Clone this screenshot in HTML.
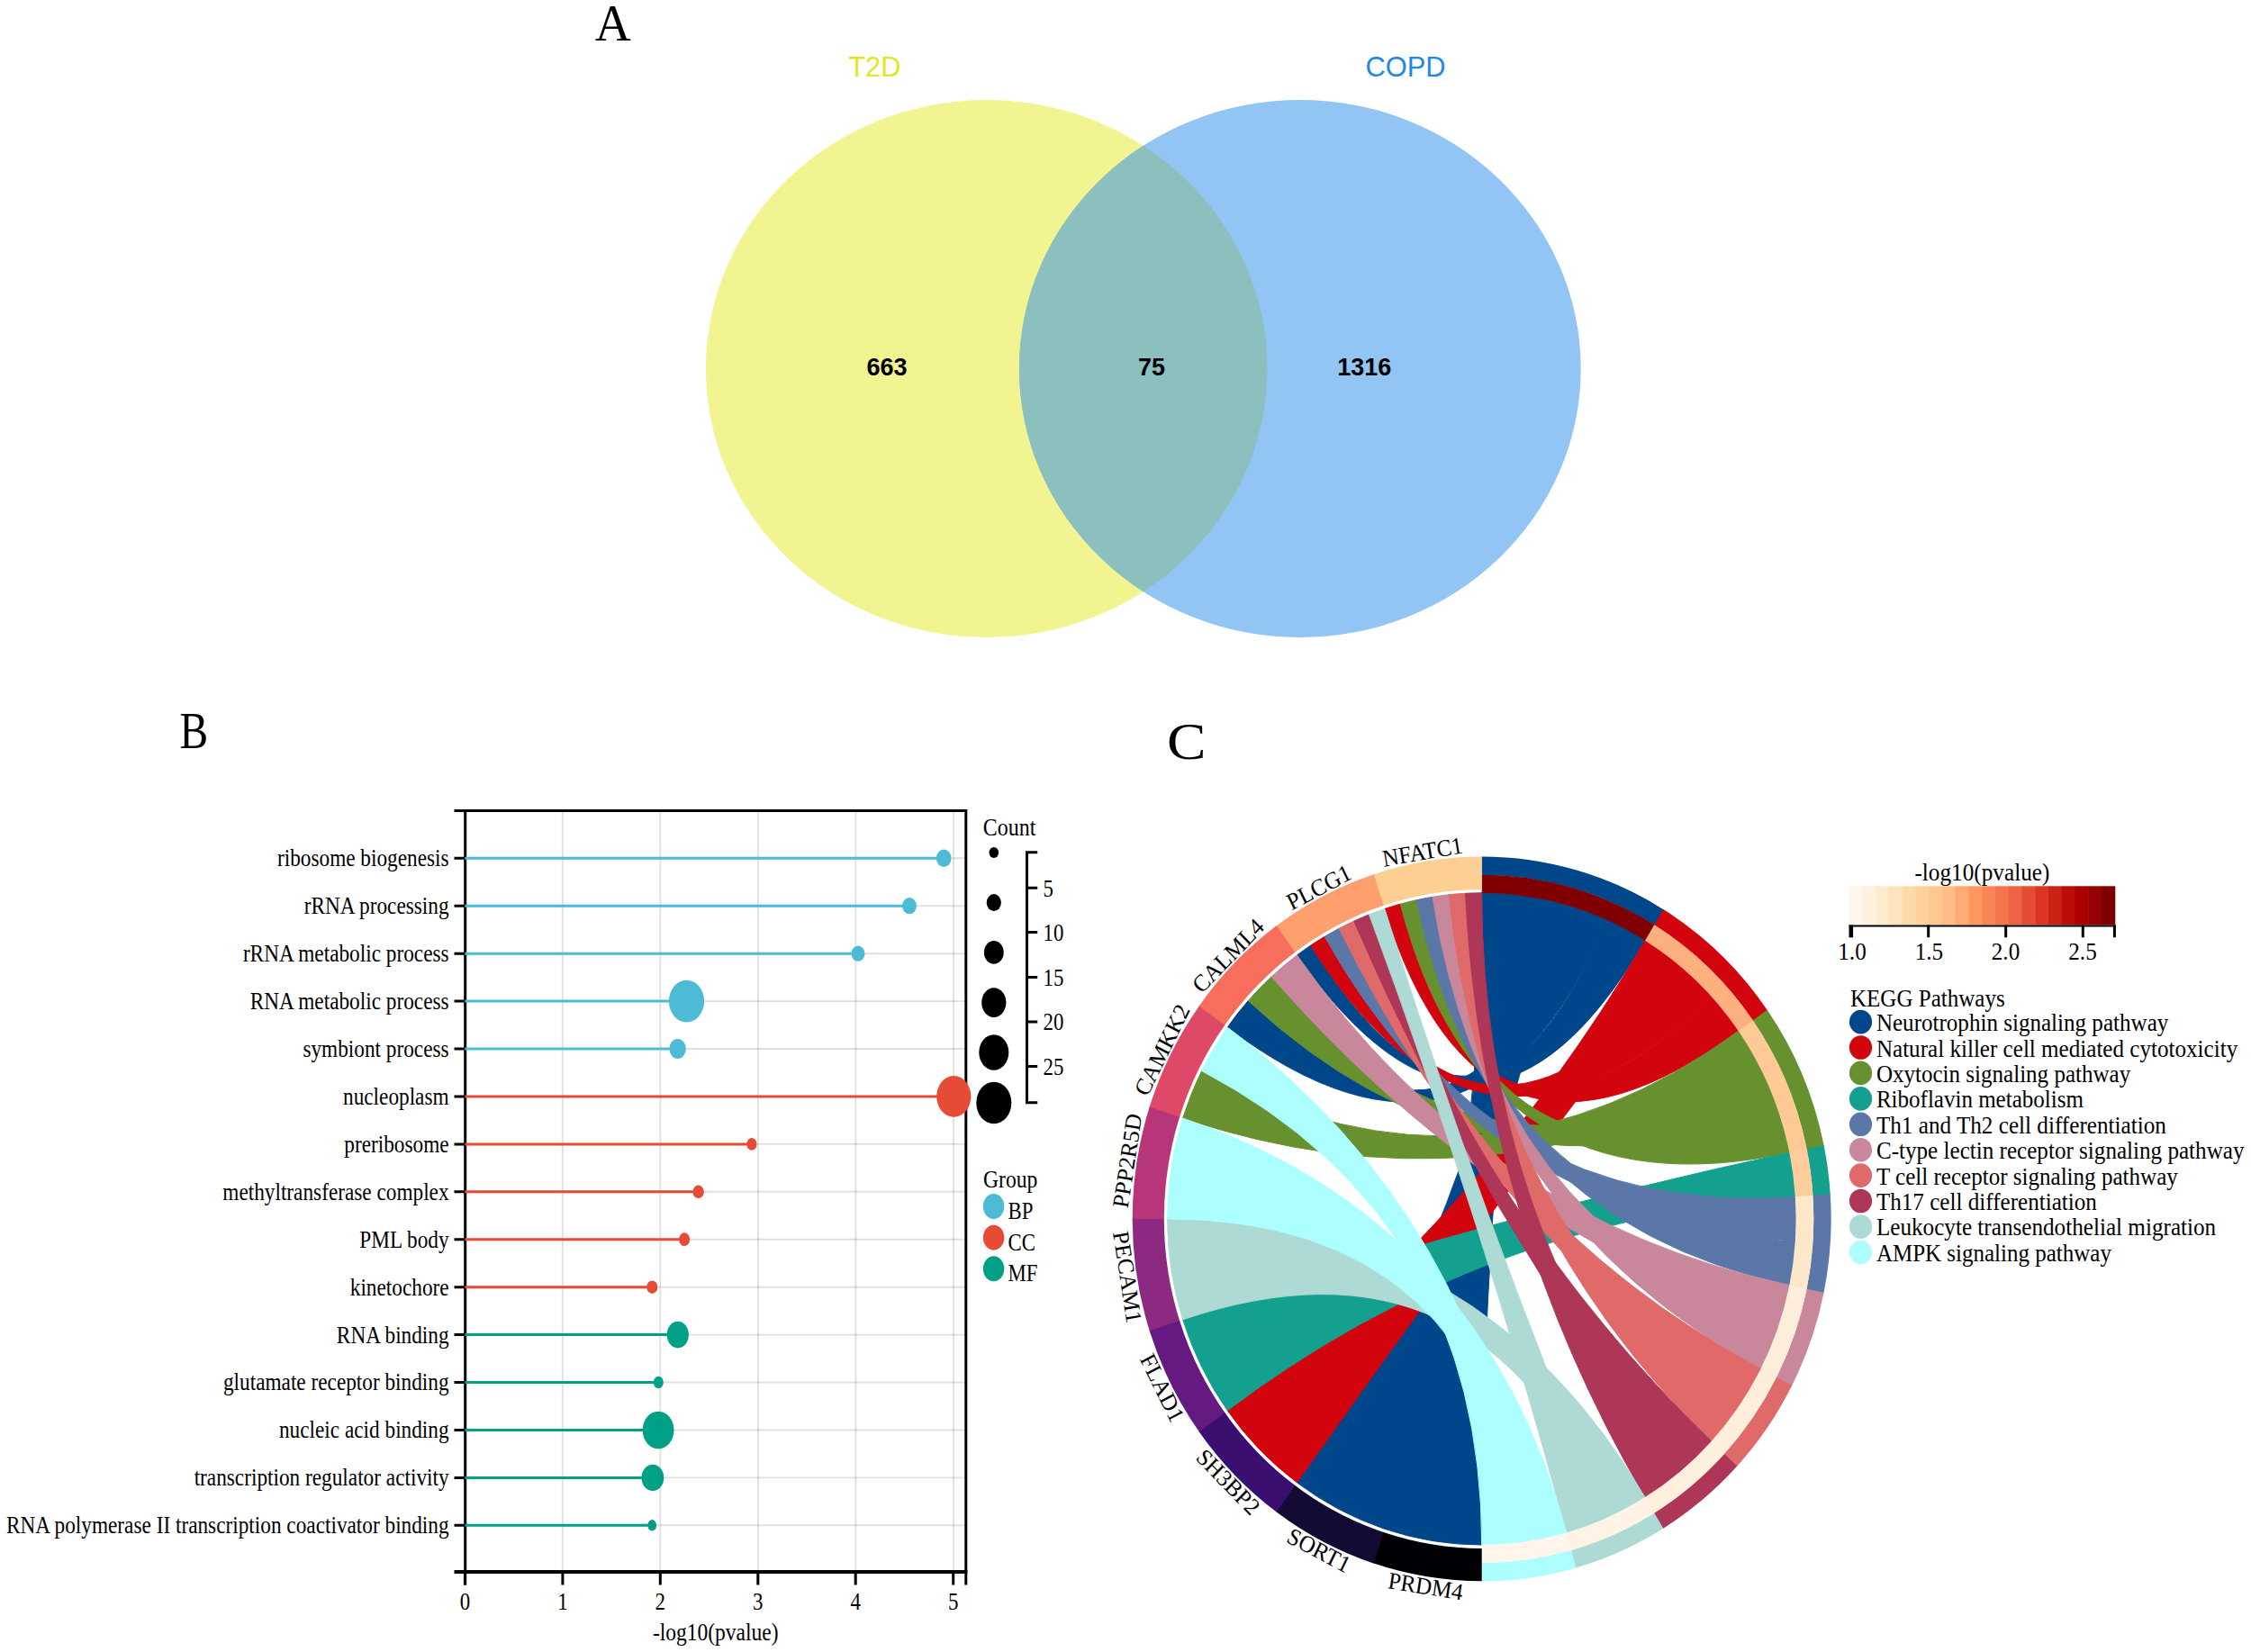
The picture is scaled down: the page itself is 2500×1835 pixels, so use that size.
<!DOCTYPE html>
<html lang="en"><head><meta charset="utf-8"><title>Figure</title>
<style>html,body{margin:0;padding:0;background:#fff}svg{display:block}.sf{font-family:"Liberation Serif",serif}.ss{font-family:"Liberation Sans",sans-serif}.sb{font-family:"Liberation Sans",sans-serif;font-weight:bold}</style></head><body>
<svg width="2500" height="1835" viewBox="0 0 2500 1835">
<rect width="2500" height="1835" fill="#fff"/>
<g id="venn">
<ellipse cx="1095.7" cy="409.5" rx="311.8" ry="298.5" fill="#F2F492"/>
<ellipse cx="1443.8" cy="409.5" rx="311.9" ry="298.5" fill="#92C5F4"/>
<clipPath id="cy"><ellipse cx="1095.7" cy="409.5" rx="311.8" ry="298.5"/></clipPath>
<ellipse cx="1443.8" cy="409.5" rx="311.9" ry="298.5" fill="#8BC0BE" clip-path="url(#cy)"/>
<text class="ss" x="942.20" y="85.30" font-size="30.8" textLength="58.19" lengthAdjust="spacingAndGlyphs" fill="#E4E51E">T2D</text>
<text class="ss" x="1516.60" y="85.20" font-size="30.8" textLength="88.99" lengthAdjust="spacingAndGlyphs" fill="#1E88E5">COPD</text>
<text class="sb" x="962.48" y="416.50" font-size="27" textLength="45.05" lengthAdjust="spacingAndGlyphs">663</text>
<text class="sb" x="1263.98" y="416.50" font-size="27" textLength="30.03" lengthAdjust="spacingAndGlyphs">75</text>
<text class="sb" x="1485.27" y="416.50" font-size="27" textLength="60.06" lengthAdjust="spacingAndGlyphs">1316</text>
</g>
<text class="sf" x="660.70" y="44.80" font-size="57.5" textLength="40.00" lengthAdjust="spacingAndGlyphs">A</text>
<text class="sf" x="199.60" y="830.90" font-size="56" textLength="31.60" lengthAdjust="spacingAndGlyphs">B</text>
<text class="sf" x="1296.00" y="842.90" font-size="57.5" textLength="43.50" lengthAdjust="spacingAndGlyphs">C</text>
<g id="lolli">
<line x1="624.8" y1="900.6" x2="624.8" y2="1746.0" stroke="#000" stroke-opacity="0.12" stroke-width="1.9"/>
<line x1="733.3" y1="900.6" x2="733.3" y2="1746.0" stroke="#000" stroke-opacity="0.12" stroke-width="1.9"/>
<line x1="841.9" y1="900.6" x2="841.9" y2="1746.0" stroke="#000" stroke-opacity="0.12" stroke-width="1.9"/>
<line x1="950.4" y1="900.6" x2="950.4" y2="1746.0" stroke="#000" stroke-opacity="0.12" stroke-width="1.9"/>
<line x1="1059.0" y1="900.6" x2="1059.0" y2="1746.0" stroke="#000" stroke-opacity="0.12" stroke-width="1.9"/>
<line x1="516.7" y1="953.3" x2="1072.8" y2="953.3" stroke="#000" stroke-opacity="0.12" stroke-width="1.9"/>
<line x1="516.7" y1="1006.2" x2="1072.8" y2="1006.2" stroke="#000" stroke-opacity="0.12" stroke-width="1.9"/>
<line x1="516.7" y1="1059.2" x2="1072.8" y2="1059.2" stroke="#000" stroke-opacity="0.12" stroke-width="1.9"/>
<line x1="516.7" y1="1112.1" x2="1072.8" y2="1112.1" stroke="#000" stroke-opacity="0.12" stroke-width="1.9"/>
<line x1="516.7" y1="1165.0" x2="1072.8" y2="1165.0" stroke="#000" stroke-opacity="0.12" stroke-width="1.9"/>
<line x1="516.7" y1="1217.9" x2="1072.8" y2="1217.9" stroke="#000" stroke-opacity="0.12" stroke-width="1.9"/>
<line x1="516.7" y1="1270.9" x2="1072.8" y2="1270.9" stroke="#000" stroke-opacity="0.12" stroke-width="1.9"/>
<line x1="516.7" y1="1323.8" x2="1072.8" y2="1323.8" stroke="#000" stroke-opacity="0.12" stroke-width="1.9"/>
<line x1="516.7" y1="1376.7" x2="1072.8" y2="1376.7" stroke="#000" stroke-opacity="0.12" stroke-width="1.9"/>
<line x1="516.7" y1="1429.7" x2="1072.8" y2="1429.7" stroke="#000" stroke-opacity="0.12" stroke-width="1.9"/>
<line x1="516.7" y1="1482.6" x2="1072.8" y2="1482.6" stroke="#000" stroke-opacity="0.12" stroke-width="1.9"/>
<line x1="516.7" y1="1535.5" x2="1072.8" y2="1535.5" stroke="#000" stroke-opacity="0.12" stroke-width="1.9"/>
<line x1="516.7" y1="1588.5" x2="1072.8" y2="1588.5" stroke="#000" stroke-opacity="0.12" stroke-width="1.9"/>
<line x1="516.7" y1="1641.4" x2="1072.8" y2="1641.4" stroke="#000" stroke-opacity="0.12" stroke-width="1.9"/>
<line x1="516.7" y1="1694.3" x2="1072.8" y2="1694.3" stroke="#000" stroke-opacity="0.12" stroke-width="1.9"/>
<path d="M504.5 900.6H1072.8V1760.4 M516.7 900.6V1760.4" fill="none" stroke="#000" stroke-width="3"/>
<path d="M504.5 1746.0H1074.3" fill="none" stroke="#000" stroke-width="3.8"/>
<path d="M504.5 953.3H516.7M504.5 1006.2H516.7M504.5 1059.2H516.7M504.5 1112.1H516.7M504.5 1165.0H516.7M504.5 1217.9H516.7M504.5 1270.9H516.7M504.5 1323.8H516.7M504.5 1376.7H516.7M504.5 1429.7H516.7M504.5 1482.6H516.7M504.5 1535.5H516.7M504.5 1588.5H516.7M504.5 1641.4H516.7M504.5 1694.3H516.7" stroke="#000" stroke-width="3" fill="none"/>
<path d="M516.4 1746.0V1760.4M624.9 1746.0V1760.4M733.3 1746.0V1760.4M841.8 1746.0V1760.4M950.2 1746.0V1760.4M1058.7 1746.0V1760.4" stroke="#000" stroke-width="3" fill="none"/>
<line x1="516.3000000000001" y1="953.3" x2="1048.2" y2="953.3" stroke="#4DBBD5" stroke-width="3"/>
<ellipse cx="1048.2" cy="953.3" rx="8.3" ry="9.7" fill="#4DBBD5"/>
<text class="sf" x="307.98" y="962.20" font-size="27.5" textLength="190.62" lengthAdjust="spacingAndGlyphs">ribosome biogenesis</text>
<line x1="516.3000000000001" y1="1006.2" x2="1010.0" y2="1006.2" stroke="#4DBBD5" stroke-width="3"/>
<ellipse cx="1010.0" cy="1006.2" rx="7.9" ry="9.1" fill="#4DBBD5"/>
<text class="sf" x="337.70" y="1015.13" font-size="27.5" textLength="160.90" lengthAdjust="spacingAndGlyphs">rRNA processing</text>
<line x1="516.3000000000001" y1="1059.2" x2="953.0" y2="1059.2" stroke="#4DBBD5" stroke-width="3"/>
<ellipse cx="953.0" cy="1059.2" rx="7.4" ry="8.6" fill="#4DBBD5"/>
<text class="sf" x="269.88" y="1068.06" font-size="27.5" textLength="228.72" lengthAdjust="spacingAndGlyphs">rRNA metabolic process</text>
<line x1="516.3000000000001" y1="1112.1" x2="762.5" y2="1112.1" stroke="#4DBBD5" stroke-width="3"/>
<ellipse cx="762.5" cy="1112.1" rx="19.6" ry="23.4" fill="#4DBBD5"/>
<text class="sf" x="277.63" y="1120.99" font-size="27.5" textLength="220.97" lengthAdjust="spacingAndGlyphs">RNA metabolic process</text>
<line x1="516.3000000000001" y1="1165.0" x2="752.6" y2="1165.0" stroke="#4DBBD5" stroke-width="3"/>
<ellipse cx="752.6" cy="1165.0" rx="9.2" ry="11.0" fill="#4DBBD5"/>
<text class="sf" x="336.40" y="1173.92" font-size="27.5" textLength="162.20" lengthAdjust="spacingAndGlyphs">symbiont process</text>
<line x1="516.3000000000001" y1="1217.9" x2="1059.3" y2="1217.9" stroke="#E64B35" stroke-width="3"/>
<ellipse cx="1059.3" cy="1217.9" rx="19.1" ry="22.8" fill="#E64B35"/>
<text class="sf" x="381.01" y="1226.85" font-size="27.5" textLength="117.59" lengthAdjust="spacingAndGlyphs">nucleoplasm</text>
<line x1="516.3000000000001" y1="1270.9" x2="834.9" y2="1270.9" stroke="#E64B35" stroke-width="3"/>
<ellipse cx="834.9" cy="1270.9" rx="5.6" ry="6.8" fill="#E64B35"/>
<text class="sf" x="382.31" y="1279.78" font-size="27.5" textLength="116.29" lengthAdjust="spacingAndGlyphs">preribosome</text>
<line x1="516.3000000000001" y1="1323.8" x2="775.6" y2="1323.8" stroke="#E64B35" stroke-width="3"/>
<ellipse cx="775.6" cy="1323.8" rx="6.2" ry="7.3" fill="#E64B35"/>
<text class="sf" x="247.31" y="1332.71" font-size="27.5" textLength="251.29" lengthAdjust="spacingAndGlyphs">methyltransferase complex</text>
<line x1="516.3000000000001" y1="1376.7" x2="760.1" y2="1376.7" stroke="#E64B35" stroke-width="3"/>
<ellipse cx="760.1" cy="1376.7" rx="6.0" ry="7.4" fill="#E64B35"/>
<text class="sf" x="399.28" y="1385.64" font-size="27.5" textLength="99.32" lengthAdjust="spacingAndGlyphs">PML body</text>
<line x1="516.3000000000001" y1="1429.7" x2="724.3" y2="1429.7" stroke="#E64B35" stroke-width="3"/>
<ellipse cx="724.3" cy="1429.7" rx="6.0" ry="7.3" fill="#E64B35"/>
<text class="sf" x="388.78" y="1438.57" font-size="27.5" textLength="109.82" lengthAdjust="spacingAndGlyphs">kinetochore</text>
<line x1="516.3000000000001" y1="1482.6" x2="752.8" y2="1482.6" stroke="#00A087" stroke-width="3"/>
<ellipse cx="752.8" cy="1482.6" rx="12.2" ry="14.8" fill="#00A087"/>
<text class="sf" x="373.86" y="1491.50" font-size="27.5" textLength="124.74" lengthAdjust="spacingAndGlyphs">RNA binding</text>
<line x1="516.3000000000001" y1="1535.5" x2="731.3" y2="1535.5" stroke="#00A087" stroke-width="3"/>
<ellipse cx="731.3" cy="1535.5" rx="5.5" ry="6.7" fill="#00A087"/>
<text class="sf" x="247.95" y="1544.43" font-size="27.5" textLength="250.65" lengthAdjust="spacingAndGlyphs">glutamate receptor binding</text>
<line x1="516.3000000000001" y1="1588.5" x2="731.1" y2="1588.5" stroke="#00A087" stroke-width="3"/>
<ellipse cx="731.1" cy="1588.5" rx="17.4" ry="20.8" fill="#00A087"/>
<text class="sf" x="309.96" y="1597.36" font-size="27.5" textLength="188.64" lengthAdjust="spacingAndGlyphs">nucleic acid binding</text>
<line x1="516.3000000000001" y1="1641.4" x2="724.9" y2="1641.4" stroke="#00A087" stroke-width="3"/>
<ellipse cx="724.9" cy="1641.4" rx="12.4" ry="14.7" fill="#00A087"/>
<text class="sf" x="215.64" y="1650.29" font-size="27.5" textLength="282.96" lengthAdjust="spacingAndGlyphs">transcription regulator activity</text>
<line x1="516.3000000000001" y1="1694.3" x2="724.2" y2="1694.3" stroke="#00A087" stroke-width="3"/>
<ellipse cx="724.2" cy="1694.3" rx="4.9" ry="6.2" fill="#00A087"/>
<text class="sf" x="6.93" y="1703.22" font-size="27.5" textLength="491.67" lengthAdjust="spacingAndGlyphs">RNA polymerase II transcription coactivator binding</text>
<text class="sf" x="510.68" y="1788.20" font-size="27" textLength="11.45" lengthAdjust="spacingAndGlyphs">0</text>
<text class="sf" x="619.13" y="1788.20" font-size="27" textLength="11.45" lengthAdjust="spacingAndGlyphs">1</text>
<text class="sf" x="727.58" y="1788.20" font-size="27" textLength="11.45" lengthAdjust="spacingAndGlyphs">2</text>
<text class="sf" x="836.03" y="1788.20" font-size="27" textLength="11.45" lengthAdjust="spacingAndGlyphs">3</text>
<text class="sf" x="944.48" y="1788.20" font-size="27" textLength="11.45" lengthAdjust="spacingAndGlyphs">4</text>
<text class="sf" x="1052.93" y="1788.20" font-size="27" textLength="11.45" lengthAdjust="spacingAndGlyphs">5</text>
<text class="sf" x="724.90" y="1821.80" font-size="27.5" textLength="139.60" lengthAdjust="spacingAndGlyphs">-log10(pvalue)</text>
<text class="sf" x="1091.80" y="928.20" font-size="27.5" textLength="58.60" lengthAdjust="spacingAndGlyphs">Count</text>
<ellipse cx="1103.8" cy="947" rx="5.3" ry="6.0" fill="#000"/>
<ellipse cx="1103.8" cy="1002.6" rx="8.1" ry="9.5" fill="#000"/>
<ellipse cx="1103.8" cy="1057.9" rx="10.9" ry="12.8" fill="#000"/>
<ellipse cx="1103.8" cy="1113.6" rx="13.6" ry="16.3" fill="#000"/>
<ellipse cx="1103.8" cy="1169" rx="16.5" ry="19.7" fill="#000"/>
<ellipse cx="1103.8" cy="1225" rx="19.5" ry="23.3" fill="#000"/>
<path d="M1152.2 946.7H1140.5V1224.8H1152.2M1140.5 986.2H1152.2M1140.5 1035.6H1152.2M1140.5 1085.4H1152.2M1140.5 1134.9H1152.2M1140.5 1184.6H1152.2" stroke="#000" stroke-width="3" fill="none"/>
<text class="sf" x="1158.50" y="995.70" font-size="26.5" textLength="11.39" lengthAdjust="spacingAndGlyphs">5</text>
<text class="sf" x="1158.50" y="1045.10" font-size="26.5" textLength="22.79" lengthAdjust="spacingAndGlyphs">10</text>
<text class="sf" x="1158.50" y="1094.90" font-size="26.5" textLength="22.79" lengthAdjust="spacingAndGlyphs">15</text>
<text class="sf" x="1158.50" y="1144.40" font-size="26.5" textLength="22.79" lengthAdjust="spacingAndGlyphs">20</text>
<text class="sf" x="1158.50" y="1194.10" font-size="26.5" textLength="22.79" lengthAdjust="spacingAndGlyphs">25</text>
<text class="sf" x="1092.00" y="1319.20" font-size="27.5" textLength="60.40" lengthAdjust="spacingAndGlyphs">Group</text>
<ellipse cx="1103.6" cy="1340.0" rx="11.7" ry="14" fill="#4DBBD5"/>
<text class="sf" x="1119.50" y="1353.80" font-size="26.5" textLength="27.88" lengthAdjust="spacingAndGlyphs">BP</text>
<ellipse cx="1103.6" cy="1374.7" rx="11.7" ry="14" fill="#E64B35"/>
<text class="sf" x="1119.50" y="1388.50" font-size="26.5" textLength="30.40" lengthAdjust="spacingAndGlyphs">CC</text>
<ellipse cx="1103.6" cy="1409.3" rx="11.7" ry="14" fill="#00A087"/>
<text class="sf" x="1119.50" y="1423.10" font-size="26.5" textLength="32.94" lengthAdjust="spacingAndGlyphs">MF</text>
</g>
<g id="chord" transform="translate(1645.7 1353.9) scale(0.9642 1)">
<path d="M0.00 -362.20A362.2 362.2 0 0 1 49.32 -358.83Q0 0 -0.00 362.10A362.1 362.1 0 0 1 -111.90 344.38Q0 0 0.00 -362.20Z" fill="#00468B" stroke="#00468B" stroke-width="1"/>
<path d="M49.32 -358.83A362.2 362.2 0 0 1 97.72 -348.77Q0 0 -111.90 344.38A362.1 362.1 0 0 1 -212.84 292.95Q0 0 49.32 -358.83Z" fill="#00468B" stroke="#00468B" stroke-width="1"/>
<path d="M97.72 -348.77A362.2 362.2 0 0 1 144.30 -332.21Q0 0 -292.95 -212.84A362.1 362.1 0 0 1 -269.09 -242.29Q0 0 97.72 -348.77Z" fill="#00468B" stroke="#00468B" stroke-width="1"/>
<path d="M144.30 -332.21A362.2 362.2 0 0 1 188.19 -309.47Q0 0 -212.84 -292.95A362.1 362.1 0 0 1 -197.21 -303.68Q0 0 144.30 -332.21Z" fill="#00468B" stroke="#00468B" stroke-width="1"/>
<path d="M188.19 -309.47A362.2 362.2 0 0 1 228.58 -280.96Q0 0 -212.84 292.95A362.1 362.1 0 0 1 -292.95 212.84Q0 0 188.19 -309.47Z" fill="#D2050F" stroke="#D2050F" stroke-width="1"/>
<path d="M228.58 -280.96A362.2 362.2 0 0 1 264.71 -247.22Q0 0 -197.21 -303.68A362.1 362.1 0 0 1 -181.05 -313.59Q0 0 228.58 -280.96Z" fill="#D2050F" stroke="#D2050F" stroke-width="1"/>
<path d="M264.71 -247.22A362.2 362.2 0 0 1 295.91 -208.87Q0 0 -111.90 -344.38A362.1 362.1 0 0 1 -93.72 -349.76Q0 0 264.71 -247.22Z" fill="#D2050F" stroke="#D2050F" stroke-width="1"/>
<path d="M295.91 -208.87A362.2 362.2 0 0 1 321.59 -166.64Q0 0 -344.38 -111.90A362.1 362.1 0 0 1 -322.63 -164.39Q0 0 295.91 -208.87Z" fill="#67902F" stroke="#67902F" stroke-width="1"/>
<path d="M321.59 -166.64A362.2 362.2 0 0 1 341.29 -121.29Q0 0 -269.09 -242.29A362.1 362.1 0 0 1 -242.29 -269.09Q0 0 321.59 -166.64Z" fill="#67902F" stroke="#67902F" stroke-width="1"/>
<path d="M341.29 -121.29A362.2 362.2 0 0 1 354.62 -73.69Q0 0 -93.72 -349.76A362.1 362.1 0 0 1 -75.28 -354.19Q0 0 341.29 -121.29Z" fill="#67902F" stroke="#67902F" stroke-width="1"/>
<path d="M354.62 -73.69A362.2 362.2 0 0 1 361.36 -24.72Q0 0 -292.95 212.84A362.1 362.1 0 0 1 -344.38 111.90Q0 0 354.62 -73.69Z" fill="#14A08F" stroke="#14A08F" stroke-width="1"/>
<path d="M361.36 -24.72A362.2 362.2 0 0 1 361.36 24.72Q0 0 -181.05 -313.59A362.1 362.1 0 0 1 -164.39 -322.63Q0 0 361.36 -24.72Z" fill="#5A77A8" stroke="#5A77A8" stroke-width="1"/>
<path d="M361.36 24.72A362.2 362.2 0 0 1 354.62 73.69Q0 0 -75.28 -354.19A362.1 362.1 0 0 1 -56.64 -357.64Q0 0 361.36 24.72Z" fill="#5A77A8" stroke="#5A77A8" stroke-width="1"/>
<path d="M354.62 73.69A362.2 362.2 0 0 1 341.29 121.29Q0 0 -242.29 -269.09A362.1 362.1 0 0 1 -212.84 -292.95Q0 0 354.62 73.69Z" fill="#C9879B" stroke="#C9879B" stroke-width="1"/>
<path d="M341.29 121.29A362.2 362.2 0 0 1 321.59 166.64Q0 0 -56.64 -357.64A362.1 362.1 0 0 1 -37.85 -360.12Q0 0 341.29 121.29Z" fill="#C9879B" stroke="#C9879B" stroke-width="1"/>
<path d="M321.59 166.64A362.2 362.2 0 0 1 295.91 208.87Q0 0 -164.39 -322.63A362.1 362.1 0 0 1 -147.28 -330.79Q0 0 321.59 166.64Z" fill="#E06A69" stroke="#E06A69" stroke-width="1"/>
<path d="M295.91 208.87A362.2 362.2 0 0 1 264.71 247.22Q0 0 -37.85 -360.12A362.1 362.1 0 0 1 -18.95 -361.60Q0 0 295.91 208.87Z" fill="#E06A69" stroke="#E06A69" stroke-width="1"/>
<path d="M264.71 247.22A362.2 362.2 0 0 1 228.58 280.96Q0 0 -147.28 -330.79A362.1 362.1 0 0 1 -129.77 -338.05Q0 0 264.71 247.22Z" fill="#AE3656" stroke="#AE3656" stroke-width="1"/>
<path d="M228.58 280.96A362.2 362.2 0 0 1 188.19 309.47Q0 0 -18.95 -361.60A362.1 362.1 0 0 1 -0.00 -362.10Q0 0 228.58 280.96Z" fill="#AE3656" stroke="#AE3656" stroke-width="1"/>
<path d="M188.19 309.47A362.2 362.2 0 0 1 144.30 332.21Q0 0 -344.38 111.90A362.1 362.1 0 0 1 -362.10 -0.00Q0 0 188.19 309.47Z" fill="#AEDAD5" stroke="#AEDAD5" stroke-width="1"/>
<path d="M144.30 332.21A362.2 362.2 0 0 1 97.72 348.77Q0 0 -129.77 -338.05A362.1 362.1 0 0 1 -111.90 -344.38Q0 0 144.30 332.21Z" fill="#AEDAD5" stroke="#AEDAD5" stroke-width="1"/>
<path d="M97.72 348.77A362.2 362.2 0 0 1 49.32 358.83Q0 0 -362.10 -0.00A362.1 362.1 0 0 1 -344.38 -111.90Q0 0 97.72 348.77Z" fill="#ADFFFF" stroke="#ADFFFF" stroke-width="1"/>
<path d="M49.32 358.83A362.2 362.2 0 0 1 0.00 362.20Q0 0 -322.63 -164.39A362.1 362.1 0 0 1 -292.95 -212.84Q0 0 49.32 358.83Z" fill="#ADFFFF" stroke="#ADFFFF" stroke-width="1"/>
<path d="M0.00 -402.40A402.4 402.4 0 0 1 209.98 -343.27L199.39 -325.95A382.09999999999997 382.09999999999997 0 0 0 0.00 -382.10Z" fill="#00468B"/>
<path d="M0.00 -382.40A382.4 382.4 0 0 1 199.54 -326.21L188.85 -308.72A361.9 361.9 0 0 0 0.00 -361.90Z" fill="#7F0000"/>
<path d="M209.08 -343.82A402.4 402.4 0 0 1 329.36 -231.19L312.74 -219.53A382.09999999999997 382.09999999999997 0 0 0 198.53 -326.47Z" fill="#D2050F"/>
<path d="M198.69 -326.73A382.4 382.4 0 0 1 312.99 -219.70L296.21 -207.93A361.9 361.9 0 0 0 188.04 -309.21Z" fill="#FDB07F"/>
<path d="M328.75 -232.06A402.4 402.4 0 0 1 394.20 -80.84L374.31 -76.76A382.09999999999997 382.09999999999997 0 0 0 312.16 -220.35Z" fill="#67902F"/>
<path d="M312.41 -220.52A382.4 382.4 0 0 1 374.60 -76.82L354.52 -72.70A361.9 361.9 0 0 0 295.66 -208.70Z" fill="#FDCA96"/>
<path d="M393.98 -81.87A402.4 402.4 0 0 1 401.53 -26.41L381.28 -25.08A382.09999999999997 382.09999999999997 0 0 0 374.11 -77.74Z" fill="#14A08F"/>
<path d="M374.40 -77.80A382.4 382.4 0 0 1 381.58 -25.10L361.12 -23.75A361.9 361.9 0 0 0 354.33 -73.63Z" fill="#FDCE9B"/>
<path d="M401.46 -27.46A402.4 402.4 0 0 1 393.77 82.90L373.90 78.72A382.09999999999997 382.09999999999997 0 0 0 381.21 -26.08Z" fill="#5A77A8"/>
<path d="M381.51 -26.10A382.4 382.4 0 0 1 374.20 78.78L354.14 74.56A361.9 361.9 0 0 0 361.06 -24.70Z" fill="#FEE8CB"/>
<path d="M393.98 81.87A402.4 402.4 0 0 1 356.80 186.06L338.80 176.68A382.09999999999997 382.09999999999997 0 0 0 374.11 77.74Z" fill="#C9879B"/>
<path d="M374.40 77.80A382.4 382.4 0 0 1 339.07 176.82L320.89 167.34A361.9 361.9 0 0 0 354.33 73.63Z" fill="#FEEDD8"/>
<path d="M357.29 185.13A402.4 402.4 0 0 1 293.37 275.43L278.57 261.53A382.09999999999997 382.09999999999997 0 0 0 339.26 175.79Z" fill="#E06A69"/>
<path d="M339.53 175.93A382.4 382.4 0 0 1 278.79 261.74L263.84 247.71A361.9 361.9 0 0 0 321.33 166.50Z" fill="#FEEEDA"/>
<path d="M294.09 274.66A402.4 402.4 0 0 1 208.18 344.36L197.68 326.99A382.09999999999997 382.09999999999997 0 0 0 279.25 260.80Z" fill="#AE3656"/>
<path d="M279.47 261.01A382.4 382.4 0 0 1 197.83 327.25L187.23 309.71A361.9 361.9 0 0 0 264.49 247.02Z" fill="#FFF0DE"/>
<path d="M209.08 343.82A402.4 402.4 0 0 1 107.55 387.76L102.13 368.20A382.09999999999997 382.09999999999997 0 0 0 198.53 326.47Z" fill="#AEDAD5"/>
<path d="M198.69 326.73A382.4 382.4 0 0 1 102.21 368.49L96.73 348.73A361.9 361.9 0 0 0 188.04 309.21Z" fill="#FFF3E5"/>
<path d="M108.57 387.48A402.4 402.4 0 0 1 0.00 402.40L0.00 382.10A382.09999999999997 382.09999999999997 0 0 0 103.09 367.93Z" fill="#ADFFFF"/>
<path d="M103.17 368.22A382.4 382.4 0 0 1 0.00 382.40L0.00 361.90A361.9 361.9 0 0 0 97.64 348.48Z" fill="#FFF5EA"/>
<path d="M0.00 -402.40A402.4 402.4 0 0 0 -125.35 -382.38L-114.01 -347.79A366.0 366.0 0 0 1 0.00 -366.00Z" fill="#FDCF92"/>
<path d="M-124.35 -382.71A402.4 402.4 0 0 0 -237.38 -324.93L-215.90 -295.54A366.0 366.0 0 0 1 -113.10 -348.09Z" fill="#FE9F6D"/>
<path d="M-236.52 -325.55A402.4 402.4 0 0 0 -326.17 -235.67L-296.66 -214.35A366.0 366.0 0 0 1 -215.13 -296.10Z" fill="#F76F5C"/>
<path d="M-325.55 -236.52A402.4 402.4 0 0 0 -383.03 -123.35L-348.38 -112.19A366.0 366.0 0 0 1 -296.10 -215.13Z" fill="#DE4968"/>
<path d="M-382.71 -124.35A402.4 402.4 0 0 0 -402.40 1.05L-366.00 0.96A366.0 366.0 0 0 1 -348.09 -113.10Z" fill="#B63679"/>
<path d="M-402.40 -0.00A402.4 402.4 0 0 0 -382.38 125.35L-347.79 114.01A366.0 366.0 0 0 1 -366.00 -0.00Z" fill="#8C2981"/>
<path d="M-382.71 124.35A402.4 402.4 0 0 0 -324.93 237.38L-295.54 215.90A366.0 366.0 0 0 1 -348.09 113.10Z" fill="#641A80"/>
<path d="M-325.55 236.52A402.4 402.4 0 0 0 -235.67 326.17L-214.35 296.66A366.0 366.0 0 0 1 -296.10 215.13Z" fill="#3B0F70"/>
<path d="M-236.52 325.55A402.4 402.4 0 0 0 -123.35 383.03L-112.19 348.38A366.0 366.0 0 0 1 -215.13 296.10Z" fill="#140B35"/>
<path d="M-124.35 382.71A402.4 402.4 0 0 0 -0.00 402.40L-0.00 366.00A366.0 366.0 0 0 1 -113.10 348.09Z" fill="#000004"/>
<text class="sf" transform="translate(-66.76 -398.95) rotate(-9.50)" x="-46.66" y="0" font-size="26.5" textLength="93.32" lengthAdjust="spacingAndGlyphs">NFATC1</text>
<text class="sf" transform="translate(-183.64 -360.41) rotate(-27.00)" x="-39.68" y="0" font-size="26.5" textLength="79.37" lengthAdjust="spacingAndGlyphs">PLCG1</text>
<text class="sf" transform="translate(-286.02 -286.02) rotate(-45.00)" x="-51.94" y="0" font-size="26.5" textLength="103.88" lengthAdjust="spacingAndGlyphs">CALML4</text>
<text class="sf" transform="translate(-360.41 -183.64) rotate(-63.00)" x="-54.83" y="0" font-size="26.5" textLength="109.66" lengthAdjust="spacingAndGlyphs">CAMKK2</text>
<text class="sf" transform="translate(-399.52 -63.28) rotate(-81.00)" x="-52.69" y="0" font-size="26.5" textLength="105.38" lengthAdjust="spacingAndGlyphs">PPP2R5D</text>
<text class="sf" transform="translate(-416.80 66.02) rotate(81.00)" x="-51.23" y="0" font-size="26.5" textLength="102.46" lengthAdjust="spacingAndGlyphs">PECAM1</text>
<text class="sf" transform="translate(-376.00 191.58) rotate(63.00)" x="-40.40" y="0" font-size="26.5" textLength="80.80" lengthAdjust="spacingAndGlyphs">FLAD1</text>
<text class="sf" transform="translate(-298.40 298.40) rotate(45.00)" x="-45.47" y="0" font-size="26.5" textLength="90.93" lengthAdjust="spacingAndGlyphs">SH3BP2</text>
<text class="sf" transform="translate(-191.58 376.00) rotate(27.00)" x="-38.90" y="0" font-size="26.5" textLength="77.81" lengthAdjust="spacingAndGlyphs">SORT1</text>
<text class="sf" transform="translate(-66.02 416.80) rotate(9.00)" x="-43.30" y="0" font-size="26.5" textLength="86.60" lengthAdjust="spacingAndGlyphs">PRDM4</text>
</g>
<rect x="2053.60" y="984.3" width="15.26" height="43.2" fill="#FFF7EC"/>
<rect x="2068.36" y="984.3" width="15.26" height="43.2" fill="#FFF1DD"/>
<rect x="2083.12" y="984.3" width="15.26" height="43.2" fill="#FEEACE"/>
<rect x="2097.88" y="984.3" width="15.26" height="43.2" fill="#FEE3BD"/>
<rect x="2112.64" y="984.3" width="15.26" height="43.2" fill="#FDDAAB"/>
<rect x="2127.40" y="984.3" width="15.26" height="43.2" fill="#FDD19B"/>
<rect x="2142.16" y="984.3" width="15.26" height="43.2" fill="#FDC790"/>
<rect x="2156.92" y="984.3" width="15.26" height="43.2" fill="#FDBC85"/>
<rect x="2171.68" y="984.3" width="15.26" height="43.2" fill="#FDAA74"/>
<rect x="2186.44" y="984.3" width="15.26" height="43.2" fill="#FC9762"/>
<rect x="2201.20" y="984.3" width="15.26" height="43.2" fill="#F98555"/>
<rect x="2215.96" y="984.3" width="15.26" height="43.2" fill="#F4744E"/>
<rect x="2230.72" y="984.3" width="15.26" height="43.2" fill="#EE6246"/>
<rect x="2245.48" y="984.3" width="15.26" height="43.2" fill="#E44C35"/>
<rect x="2260.24" y="984.3" width="15.26" height="43.2" fill="#DA3623"/>
<rect x="2275.00" y="984.3" width="15.26" height="43.2" fill="#CC2115"/>
<rect x="2289.76" y="984.3" width="15.26" height="43.2" fill="#BC0D08"/>
<rect x="2304.52" y="984.3" width="15.26" height="43.2" fill="#AB0000"/>
<rect x="2319.28" y="984.3" width="15.26" height="43.2" fill="#950000"/>
<rect x="2334.04" y="984.3" width="15.26" height="43.2" fill="#7F0000"/>
<path d="M2053.6 1028.5H2349.8" stroke="#000" stroke-width="2" fill="none"/>
<path d="M2055.8 1027.5V1041.3" stroke="#000" stroke-width="4.6" fill="none"/>
<path d="M2141.7 1027.5V1041.3M2227.7 1027.5V1041.3M2313.3 1027.5V1041.3M2348.4 1027.5V1041.3" stroke="#000" stroke-width="3" fill="none"/>
<text class="sf" x="2041.27" y="1066.30" font-size="26.5" textLength="31.47" lengthAdjust="spacingAndGlyphs">1.0</text>
<text class="sf" x="2126.67" y="1066.30" font-size="26.5" textLength="31.47" lengthAdjust="spacingAndGlyphs">1.5</text>
<text class="sf" x="2211.77" y="1066.30" font-size="26.5" textLength="31.47" lengthAdjust="spacingAndGlyphs">2.0</text>
<text class="sf" x="2297.27" y="1066.30" font-size="26.5" textLength="31.47" lengthAdjust="spacingAndGlyphs">2.5</text>
<text class="sf" x="2126.40" y="977.60" font-size="26.5" textLength="150.00" lengthAdjust="spacingAndGlyphs">-log10(pvalue)</text>
<text class="sf" x="2055.00" y="1117.60" font-size="26.5" textLength="171.70" lengthAdjust="spacingAndGlyphs">KEGG Pathways</text>
<ellipse cx="2066.5" cy="1135.1" rx="12.6" ry="13.3" fill="#00468B"/>
<text class="sf" x="2083.90" y="1145.10" font-size="26.5" textLength="324.40" lengthAdjust="spacingAndGlyphs">Neurotrophin signaling pathway</text>
<ellipse cx="2066.5" cy="1163.5" rx="12.6" ry="13.3" fill="#D2050F"/>
<text class="sf" x="2083.90" y="1173.52" font-size="26.5" textLength="401.30" lengthAdjust="spacingAndGlyphs">Natural killer cell mediated cytotoxicity</text>
<ellipse cx="2066.5" cy="1191.9" rx="12.6" ry="13.3" fill="#67902F"/>
<text class="sf" x="2083.90" y="1201.94" font-size="26.5" textLength="282.30" lengthAdjust="spacingAndGlyphs">Oxytocin signaling pathway</text>
<ellipse cx="2066.5" cy="1220.4" rx="12.6" ry="13.3" fill="#14A08F"/>
<text class="sf" x="2083.90" y="1230.36" font-size="26.5" textLength="230.00" lengthAdjust="spacingAndGlyphs">Riboflavin metabolism</text>
<ellipse cx="2066.5" cy="1248.8" rx="12.6" ry="13.3" fill="#5A77A8"/>
<text class="sf" x="2083.90" y="1258.78" font-size="26.5" textLength="322.00" lengthAdjust="spacingAndGlyphs">Th1 and Th2 cell differentiation</text>
<ellipse cx="2066.5" cy="1277.2" rx="12.6" ry="13.3" fill="#C9879B"/>
<text class="sf" x="2083.90" y="1287.20" font-size="26.5" textLength="408.60" lengthAdjust="spacingAndGlyphs">C-type lectin receptor signaling pathway</text>
<ellipse cx="2066.5" cy="1305.6" rx="12.6" ry="13.3" fill="#E06A69"/>
<text class="sf" x="2083.90" y="1315.62" font-size="26.5" textLength="334.90" lengthAdjust="spacingAndGlyphs">T cell receptor signaling pathway</text>
<ellipse cx="2066.5" cy="1334.0" rx="12.6" ry="13.3" fill="#AE3656"/>
<text class="sf" x="2083.90" y="1344.04" font-size="26.5" textLength="245.00" lengthAdjust="spacingAndGlyphs">Th17 cell differentiation</text>
<ellipse cx="2066.5" cy="1362.5" rx="12.6" ry="13.3" fill="#AEDAD5"/>
<text class="sf" x="2083.90" y="1372.46" font-size="26.5" textLength="377.30" lengthAdjust="spacingAndGlyphs">Leukocyte transendothelial migration</text>
<ellipse cx="2066.5" cy="1390.9" rx="12.6" ry="13.3" fill="#ADFFFF"/>
<text class="sf" x="2083.90" y="1400.88" font-size="26.5" textLength="261.00" lengthAdjust="spacingAndGlyphs">AMPK signaling pathway</text>
</svg></body></html>
